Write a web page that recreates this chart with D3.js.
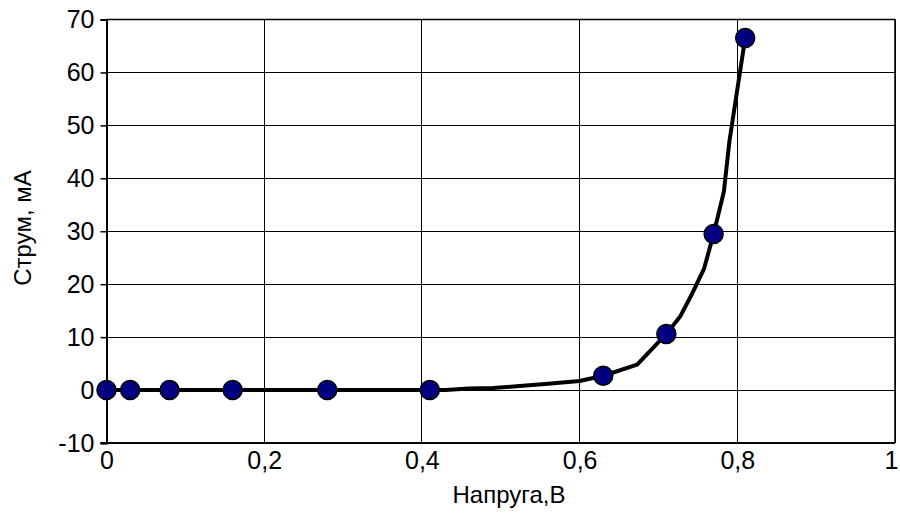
<!DOCTYPE html>
<html>
<head>
<meta charset="utf-8">
<script src="https://cdn.jsdelivr.net/npm/d3@7"></script>
<style>
  html, body { margin: 0; padding: 0; background: #fff; }
  svg { display: block; }
  text { font-family: "Liberation Sans", Arial, sans-serif; fill: #000; }
</style>
</head>
<body>
<svg id="chart" width="900" height="515"></svg>
<script>
// Measured points (voltage, V / current, mA)
const voltage = [0, 0.03, 0.08, 0.16, 0.28, 0.41, 0.63, 0.71, 0.77, 0.81];
const current = [0, 0, 0, 0, 0, 0, 2.7, 10.6, 29.5, 66.5];

// Characteristic curve drawn through the measurements
const curveVoltage = [0, 0.41, 0.43, 0.46, 0.49, 0.52, 0.56, 0.60, 0.63, 0.673, 0.71, 0.728, 0.742, 0.758, 0.77, 0.783, 0.79, 0.81];
const curveCurrent = [0, 0, 0, 0.3, 0.4, 0.7, 1.2, 1.7, 2.7, 4.8, 10.6, 14, 18, 23, 29.5, 37.5, 47, 66.5];

const xTicks = [0, 0.2, 0.4, 0.6, 0.8, 1];
const yTicks = [-10, 0, 10, 20, 30, 40, 50, 60, 70];
const xTitle = "Напруга,В";
const yTitle = "Струм, мА";

const svg = d3.select("#chart");
const plotLeft = 106.5, plotRight = 895, plotTop = 19.5, plotBottom = 443;

const x = d3.scaleLinear().domain([0, 1]).range([plotLeft, plotRight]);
const y = d3.scaleLinear().domain([-10, 70]).range([plotBottom, plotTop]);
const fmt = d => String(d).replace(".", ",");

// grid
const grid = svg.append("g").attr("stroke", "#000").attr("stroke-width", 1).attr("shape-rendering", "crispEdges");
grid.selectAll("line.h").data(yTicks).join("line").attr("class", "h")
  .attr("x1", plotLeft).attr("x2", plotRight).attr("y1", d => y(d)).attr("y2", d => y(d));
grid.selectAll("line.v").data(xTicks).join("line").attr("class", "v")
  .attr("y1", plotTop).attr("y2", plotBottom).attr("x1", d => x(d)).attr("x2", d => x(d));

// y axis
const yAxis = svg.append("g").attr("transform", `translate(${plotLeft},0)`)
  .call(d3.axisLeft(y).tickValues(yTicks).tickSize(6).tickPadding(6).tickFormat(fmt));
yAxis.select(".domain").attr("stroke-width", 2);
yAxis.selectAll(".tick line").attr("stroke-width", 1.5);
yAxis.selectAll("text").attr("font-size", 25).style("font-family", "Liberation Sans, Arial, sans-serif");

// x axis
const xAxis = svg.append("g").attr("transform", `translate(0,${plotBottom})`)
  .call(d3.axisBottom(x).tickValues(xTicks).tickSize(0).tickPadding(8).tickFormat(fmt));
xAxis.select(".domain").attr("stroke-width", 2).attr("d", `M${plotLeft - 6},0H${plotRight}`);
xAxis.selectAll("text").attr("font-size", 25).style("font-family", "Liberation Sans, Arial, sans-serif");
// keep the last label inside the canvas
xAxis.selectAll(".tick").filter(d => d === 1).select("text").attr("dx", -4);

// frame top/right
svg.append("path")
  .attr("d", `M${plotLeft},${plotTop}H${plotRight}V${plotBottom}`)
  .attr("fill", "none").attr("stroke", "#000").attr("stroke-width", 1.5);

// curve
const pts = curveVoltage.map((v, i) => [v, curveCurrent[i]]);
svg.append("path")
  .datum(pts)
  .attr("fill", "none").attr("stroke", "#000").attr("stroke-width", 4)
  .attr("stroke-linejoin", "round")
  .attr("d", d3.line().x(d => x(d[0])).y(d => y(d[1])));

// markers
svg.append("g").selectAll("circle")
  .data(voltage.map((v, i) => [v, current[i]]))
  .join("circle")
  .attr("cx", d => x(d[0])).attr("cy", d => y(d[1]))
  .attr("r", 9.5)
  .attr("fill", "#000080").attr("stroke", "#000").attr("stroke-width", 1.5);

// axis titles
svg.append("text").attr("x", 509).attr("y", 503).attr("text-anchor", "middle")
  .attr("font-size", 24).text(xTitle);
svg.append("text").attr("transform", "translate(31,228) rotate(-90)")
  .attr("text-anchor", "middle").attr("font-size", 24).text(yTitle);
</script>
</body>
</html>
